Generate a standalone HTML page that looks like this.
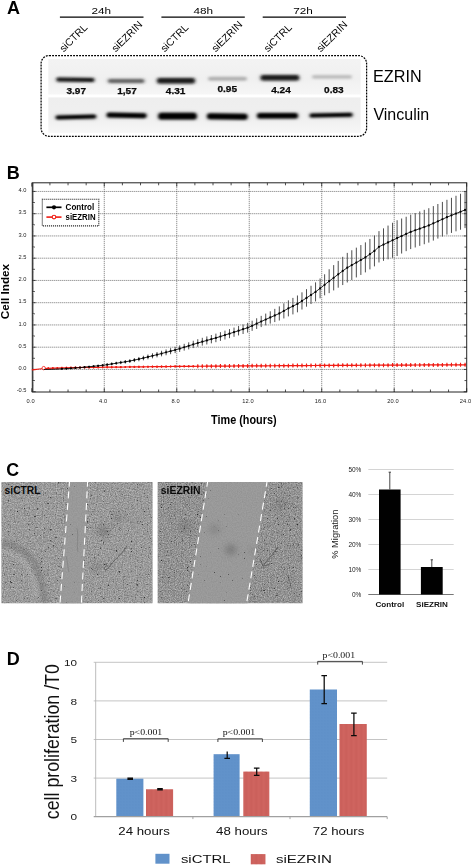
<!DOCTYPE html>
<html><head><meta charset="utf-8"><title>Figure</title>
<style>html,body{margin:0;padding:0;background:#fff;}body{width:472px;height:866px;overflow:hidden;font-family:"Liberation Sans",sans-serif;}svg{display:block;}</style>
</head><body>
<svg width="472" height="866" viewBox="0 0 472 866" font-family='"Liberation Sans", sans-serif' fill="#000">
<rect x="0" y="0" width="472" height="866" fill="#fff"/>
<defs>
<linearGradient id="blotg1" x1="0" y1="0" x2="0" y2="1"><stop offset="0" stop-color="#f3f3f3"/><stop offset="0.55" stop-color="#f0f0f0"/><stop offset="1" stop-color="#f6f6f6"/></linearGradient>
<linearGradient id="blotg2" x1="0" y1="0" x2="0" y2="1"><stop offset="0" stop-color="#eeeeee"/><stop offset="0.6" stop-color="#f0f0f0"/><stop offset="1" stop-color="#f6f6f6"/></linearGradient>
<filter id="halo" x="-10%" y="-150%" width="120%" height="400%"><feGaussianBlur stdDeviation="2.2 1.8"/></filter>
<filter id="bandblur" x="-10%" y="-60%" width="120%" height="220%"><feGaussianBlur stdDeviation="1.5 0.95"/></filter>
<filter id="soft" x="-5%" y="-5%" width="110%" height="110%"><feGaussianBlur stdDeviation="1.2"/></filter>
<filter id="blob" x="-80%" y="-80%" width="260%" height="260%"><feGaussianBlur stdDeviation="3"/></filter>
<filter id="blob2" x="-30%" y="-30%" width="160%" height="160%"><feGaussianBlur stdDeviation="2.2"/></filter>
<filter id="cells1" x="0" y="0" width="100%" height="100%" color-interpolation-filters="sRGB"><feTurbulence type="fractalNoise" baseFrequency="0.85" numOctaves="2" seed="3" result="n"/><feColorMatrix in="n" type="matrix" values="0 0.41 0 0 0.4  0 0.41 0 0 0.4  0 0.41 0 0 0.4  0 0 0 0 1" result="g"/><feTurbulence type="fractalNoise" baseFrequency="0.7" numOctaves="1" seed="23" result="m"/><feColorMatrix in="m" type="matrix" values="0 0 0 0 0.16  0 0 0 0 0.16  0 0 0 0 0.16  0 9 0 0 -6.3" result="dots"/><feTurbulence type="fractalNoise" baseFrequency="0.38" numOctaves="1" seed="44" result="m2"/><feColorMatrix in="m2" type="matrix" values="0 0 0 0 0.22  0 0 0 0 0.22  0 0 0 0 0.22  0 10 0 0 -7.15" result="dots2"/><feMerge><feMergeNode in="g"/><feMergeNode in="dots"/><feMergeNode in="dots2"/></feMerge></filter>
<filter id="fine1" x="0" y="0" width="100%" height="100%" color-interpolation-filters="sRGB"><feTurbulence type="fractalNoise" baseFrequency="0.8" numOctaves="1" seed="8" result="n"/><feColorMatrix in="n" type="matrix" values="0 0.10 0 0 0.55  0 0.10 0 0 0.55  0 0.10 0 0 0.55  0 0 0 0 1" result="g"/><feTurbulence type="fractalNoise" baseFrequency="0.5" numOctaves="1" seed="34" result="m"/><feColorMatrix in="m" type="matrix" values="0 0 0 0 0.2  0 0 0 0 0.2  0 0 0 0 0.2  0 9 0 0 -6.85" result="dots"/><feMerge result="mm"><feMergeNode in="g"/><feMergeNode in="dots"/></feMerge><feGaussianBlur in="SourceAlpha" stdDeviation="0.8" result="sa"/><feComposite in="mm" in2="sa" operator="in"/></filter>
<filter id="cells2" x="0" y="0" width="100%" height="100%" color-interpolation-filters="sRGB"><feTurbulence type="fractalNoise" baseFrequency="0.85" numOctaves="2" seed="11" result="n"/><feColorMatrix in="n" type="matrix" values="0 0.45 0 0 0.35  0 0.45 0 0 0.35  0 0.45 0 0 0.35  0 0 0 0 1" result="g"/><feTurbulence type="fractalNoise" baseFrequency="0.7" numOctaves="1" seed="31" result="m"/><feColorMatrix in="m" type="matrix" values="0 0 0 0 0.16  0 0 0 0 0.16  0 0 0 0 0.16  0 9 0 0 -6.15" result="dots"/><feTurbulence type="fractalNoise" baseFrequency="0.38" numOctaves="1" seed="52" result="m2"/><feColorMatrix in="m2" type="matrix" values="0 0 0 0 0.22  0 0 0 0 0.22  0 0 0 0 0.22  0 10 0 0 -7.15" result="dots2"/><feMerge><feMergeNode in="g"/><feMergeNode in="dots"/><feMergeNode in="dots2"/></feMerge></filter>
<filter id="fine2" x="0" y="0" width="100%" height="100%" color-interpolation-filters="sRGB"><feTurbulence type="fractalNoise" baseFrequency="0.8" numOctaves="1" seed="16" result="n"/><feColorMatrix in="n" type="matrix" values="0 0.10 0 0 0.55  0 0.10 0 0 0.55  0 0.10 0 0 0.55  0 0 0 0 1" result="g"/><feTurbulence type="fractalNoise" baseFrequency="0.5" numOctaves="1" seed="42" result="m"/><feColorMatrix in="m" type="matrix" values="0 0 0 0 0.2  0 0 0 0 0.2  0 0 0 0 0.2  0 9 0 0 -6.85" result="dots"/><feMerge result="mm"><feMergeNode in="g"/><feMergeNode in="dots"/></feMerge><feGaussianBlur in="SourceAlpha" stdDeviation="0.8" result="sa"/><feComposite in="mm" in2="sa" operator="in"/></filter>
<pattern id="stripesr" width="1.25" height="4" patternUnits="userSpaceOnUse"><rect x="0" y="0" width="0.55" height="4" fill="#c25550" opacity="0.4"/></pattern>
<pattern id="stripesb" width="1.5" height="1.5" patternUnits="userSpaceOnUse"><rect x="0" y="0" width="0.7" height="0.7" fill="#5486c0" opacity="0.3"/></pattern>
</defs>
<g opacity="0.999">
<g id="panelA">
<text x="6.9" y="13.7" font-size="18" font-weight="700">A</text>
<text x="91.4" y="14.3" font-size="9.6" textLength="19.6" lengthAdjust="spacingAndGlyphs">24h</text>
<line x1="59.9" y1="17.2" x2="143.5" y2="17.2" stroke="#000" stroke-width="1.2"/>
<text x="193.4" y="14.3" font-size="9.6" textLength="19.6" lengthAdjust="spacingAndGlyphs">48h</text>
<line x1="161.4" y1="17.2" x2="244.8" y2="17.2" stroke="#000" stroke-width="1.2"/>
<text x="293.3" y="14.3" font-size="9.6" textLength="19.6" lengthAdjust="spacingAndGlyphs">72h</text>
<line x1="262.7" y1="17.2" x2="346.0" y2="17.2" stroke="#000" stroke-width="1.2"/>
<text transform="translate(63.7,52.6) rotate(-45)" font-size="10.4" fill="#000">siCTRL</text>
<text transform="translate(115.7,52.6) rotate(-45)" font-size="10.4" fill="#000">siEZRIN</text>
<text transform="translate(164.7,52.6) rotate(-45)" font-size="10.4" fill="#000">siCTRL</text>
<text transform="translate(215.7,52.6) rotate(-45)" font-size="10.4" fill="#000">siEZRIN</text>
<text transform="translate(268.0,52.6) rotate(-45)" font-size="10.4" fill="#000">siCTRL</text>
<text transform="translate(320.7,52.6) rotate(-45)" font-size="10.4" fill="#000">siEZRIN</text>
<rect x="48.3" y="59" width="312.3" height="35.5" fill="url(#blotg1)"/>
<rect x="48.3" y="97.4" width="312.3" height="35.4" fill="url(#blotg2)"/>
<g filter="url(#halo)" opacity="0.22">
<rect x="55.4" y="76.65" width="40.0" height="6.3" rx="3" fill="#555"/>
<rect x="107.0" y="78.05" width="38.2" height="5.9" rx="3" fill="#555"/>
<rect x="156.0" y="76.90" width="40.0" height="7.8" rx="3" fill="#555"/>
<rect x="259.6" y="73.90" width="40.6" height="7.8" rx="3" fill="#555"/>
<rect x="54.6" y="113.70" width="42.6" height="6.6" rx="3" fill="#555"/>
<rect x="105.6" y="111.70" width="42.0" height="7.4" rx="3" fill="#555"/>
<rect x="157.2" y="111.60" width="40.6" height="9.2" rx="3" fill="#555"/>
<rect x="206.0" y="112.30" width="42.6" height="8.4" rx="3" fill="#555"/>
<rect x="256.0" y="111.70" width="43.0" height="8.0" rx="3" fill="#555"/>
<rect x="308.6" y="112.00" width="45.0" height="6.4" rx="3" fill="#555"/>
</g>
<g filter="url(#bandblur)">
<rect x="56.4" y="77.85" width="38.0" height="3.9" rx="1.95" fill="#141414" opacity="1.0" transform="rotate(0.8 75.4 79.8)"/>
<rect x="108.0" y="79.25" width="36.2" height="3.5" rx="1.75" fill="#444" opacity="0.85" transform="rotate(0.4 126.1 81.0)"/>
<rect x="157.0" y="78.10" width="38.0" height="5.4" rx="2.70" fill="#161616" opacity="0.96" transform="rotate(0.0 176.0 80.8)"/>
<rect x="208.0" y="76.80" width="39.0" height="4.0" rx="2.00" fill="#a0a0a0" opacity="0.8" transform="rotate(0.0 227.5 78.8)"/>
<rect x="260.6" y="75.10" width="38.6" height="5.4" rx="2.70" fill="#161616" opacity="0.96" transform="rotate(0.0 279.9 77.8)"/>
<rect x="312.0" y="74.90" width="40.0" height="3.8" rx="1.90" fill="#b2b2b2" opacity="0.8" transform="rotate(0.0 332.0 76.8)"/>
<rect x="55.6" y="114.90" width="40.6" height="4.2" rx="2.10" fill="#050505" opacity="1.0" transform="rotate(-1.6 75.9 117.0)"/>
<rect x="106.6" y="112.90" width="40.0" height="5.0" rx="2.50" fill="#050505" opacity="1.0" transform="rotate(1.0 126.6 115.4)"/>
<rect x="158.2" y="112.80" width="38.6" height="6.8" rx="3.40" fill="#030303" opacity="1.0" transform="rotate(0.0 177.5 116.2)"/>
<rect x="207.0" y="113.50" width="40.6" height="6.0" rx="3.00" fill="#030303" opacity="1.0" transform="rotate(0.6 227.3 116.5)"/>
<rect x="257.0" y="112.90" width="41.0" height="5.6" rx="2.80" fill="#030303" opacity="1.0" transform="rotate(0.0 277.5 115.7)"/>
<rect x="309.6" y="113.20" width="43.0" height="4.0" rx="2.00" fill="#050505" opacity="1.0" transform="rotate(-1.2 331.1 115.2)"/>
</g>
<text x="76.2" y="94.0" font-size="9.4" font-weight="700" text-anchor="middle" fill="#0a0a0a" stroke="#0a0a0a" stroke-width="0.25" textLength="19.6" lengthAdjust="spacingAndGlyphs">3.97</text>
<text x="127.0" y="94.0" font-size="9.4" font-weight="700" text-anchor="middle" fill="#0a0a0a" stroke="#0a0a0a" stroke-width="0.25" textLength="19.6" lengthAdjust="spacingAndGlyphs">1,57</text>
<text x="175.6" y="93.6" font-size="9.4" font-weight="700" text-anchor="middle" fill="#0a0a0a" stroke="#0a0a0a" stroke-width="0.25" textLength="19.6" lengthAdjust="spacingAndGlyphs">4.31</text>
<text x="227.2" y="92.4" font-size="9.4" font-weight="700" text-anchor="middle" fill="#0a0a0a" stroke="#0a0a0a" stroke-width="0.25" textLength="19.6" lengthAdjust="spacingAndGlyphs">0.95</text>
<text x="281" y="92.6" font-size="9.4" font-weight="700" text-anchor="middle" fill="#0a0a0a" stroke="#0a0a0a" stroke-width="0.25" textLength="19.6" lengthAdjust="spacingAndGlyphs">4.24</text>
<text x="333.9" y="92.6" font-size="9.4" font-weight="700" text-anchor="middle" fill="#0a0a0a" stroke="#0a0a0a" stroke-width="0.25" textLength="19.6" lengthAdjust="spacingAndGlyphs">0.83</text>
<rect x="41.1" y="55.6" width="325.5" height="80.7" rx="8" ry="8" fill="none" stroke="#000" stroke-width="1.25" stroke-dasharray="1.9 1.1"/>
<text x="373.0" y="82.3" font-size="15.7" textLength="48.6" lengthAdjust="spacingAndGlyphs">EZRIN</text>
<text x="373.4" y="120" font-size="15.7" textLength="55.8" lengthAdjust="spacingAndGlyphs">Vinculin</text>
</g>
<g id="panelB">
<text x="6.7" y="178.8" font-size="18" font-weight="700">B</text>
<line x1="32.3" y1="369.45" x2="466.7" y2="369.45" stroke="#5a5a5a" stroke-width="0.85" stroke-dasharray="1 1"/>
<line x1="32.3" y1="347.20" x2="466.7" y2="347.20" stroke="#5a5a5a" stroke-width="0.85" stroke-dasharray="1 1"/>
<line x1="32.3" y1="324.95" x2="466.7" y2="324.95" stroke="#5a5a5a" stroke-width="0.85" stroke-dasharray="1 1"/>
<line x1="32.3" y1="302.70" x2="466.7" y2="302.70" stroke="#5a5a5a" stroke-width="0.85" stroke-dasharray="1 1"/>
<line x1="32.3" y1="280.45" x2="466.7" y2="280.45" stroke="#5a5a5a" stroke-width="0.85" stroke-dasharray="1 1"/>
<line x1="32.3" y1="258.20" x2="466.7" y2="258.20" stroke="#5a5a5a" stroke-width="0.85" stroke-dasharray="1 1"/>
<line x1="32.3" y1="235.95" x2="466.7" y2="235.95" stroke="#5a5a5a" stroke-width="0.85" stroke-dasharray="1 1"/>
<line x1="32.3" y1="213.70" x2="466.7" y2="213.70" stroke="#5a5a5a" stroke-width="0.85" stroke-dasharray="1 1"/>
<line x1="32.3" y1="191.45" x2="466.7" y2="191.45" stroke="#5a5a5a" stroke-width="0.85" stroke-dasharray="1 1"/>
<line x1="104.28" y1="182.8" x2="104.28" y2="392.0" stroke="#5a5a5a" stroke-width="0.85" stroke-dasharray="1 1"/>
<line x1="176.76" y1="182.8" x2="176.76" y2="392.0" stroke="#5a5a5a" stroke-width="0.85" stroke-dasharray="1 1"/>
<line x1="249.24" y1="182.8" x2="249.24" y2="392.0" stroke="#5a5a5a" stroke-width="0.85" stroke-dasharray="1 1"/>
<line x1="321.72" y1="182.8" x2="321.72" y2="392.0" stroke="#5a5a5a" stroke-width="0.85" stroke-dasharray="1 1"/>
<line x1="394.20" y1="182.8" x2="394.20" y2="392.0" stroke="#5a5a5a" stroke-width="0.85" stroke-dasharray="1 1"/>
<rect x="32.3" y="182.8" width="434.4" height="209.2" fill="none" stroke="#222" stroke-width="1"/>
<path d="M32.3 390.81h1.6M32.3 389.92h1.6M32.3 389.03h1.6M32.3 388.14h1.6M32.3 387.25h1.6M32.3 386.36h1.6M32.3 385.47h1.6M32.3 384.58h1.6M32.3 383.69h1.6M32.3 382.80h1.6M32.3 381.91h1.6M32.3 380.13h1.6M32.3 379.24h1.6M32.3 378.35h1.6M32.3 377.46h1.6M32.3 376.57h1.6M32.3 375.68h1.6M32.3 374.79h1.6M32.3 373.90h1.6M32.3 373.01h1.6M32.3 372.12h1.6M32.3 371.23h1.6M32.3 370.34h1.6M32.3 368.56h1.6M32.3 367.67h1.6M32.3 366.78h1.6M32.3 365.89h1.6M32.3 365.00h1.6M32.3 364.11h1.6M32.3 363.22h1.6M32.3 362.33h1.6M32.3 361.44h1.6M32.3 360.55h1.6M32.3 359.66h1.6M32.3 357.88h1.6M32.3 356.99h1.6M32.3 356.10h1.6M32.3 355.21h1.6M32.3 354.32h1.6M32.3 353.43h1.6M32.3 352.54h1.6M32.3 351.65h1.6M32.3 350.76h1.6M32.3 349.87h1.6M32.3 348.98h1.6M32.3 348.09h1.6M32.3 346.31h1.6M32.3 345.42h1.6M32.3 344.53h1.6M32.3 343.64h1.6M32.3 342.75h1.6M32.3 341.86h1.6M32.3 340.97h1.6M32.3 340.08h1.6M32.3 339.19h1.6M32.3 338.30h1.6M32.3 337.41h1.6M32.3 335.63h1.6M32.3 334.74h1.6M32.3 333.85h1.6M32.3 332.96h1.6M32.3 332.07h1.6M32.3 331.18h1.6M32.3 330.29h1.6M32.3 329.40h1.6M32.3 328.51h1.6M32.3 327.62h1.6M32.3 326.73h1.6M32.3 325.84h1.6M32.3 324.06h1.6M32.3 323.17h1.6M32.3 322.28h1.6M32.3 321.39h1.6M32.3 320.50h1.6M32.3 319.61h1.6M32.3 318.72h1.6M32.3 317.83h1.6M32.3 316.94h1.6M32.3 316.05h1.6M32.3 315.16h1.6M32.3 313.38h1.6M32.3 312.49h1.6M32.3 311.60h1.6M32.3 310.71h1.6M32.3 309.82h1.6M32.3 308.93h1.6M32.3 308.04h1.6M32.3 307.15h1.6M32.3 306.26h1.6M32.3 305.37h1.6M32.3 304.48h1.6M32.3 303.59h1.6M32.3 301.81h1.6M32.3 300.92h1.6M32.3 300.03h1.6M32.3 299.14h1.6M32.3 298.25h1.6M32.3 297.36h1.6M32.3 296.47h1.6M32.3 295.58h1.6M32.3 294.69h1.6M32.3 293.80h1.6M32.3 292.91h1.6M32.3 291.13h1.6M32.3 290.24h1.6M32.3 289.35h1.6M32.3 288.46h1.6M32.3 287.57h1.6M32.3 286.68h1.6M32.3 285.79h1.6M32.3 284.90h1.6M32.3 284.01h1.6M32.3 283.12h1.6M32.3 282.23h1.6M32.3 281.34h1.6M32.3 279.56h1.6M32.3 278.67h1.6M32.3 277.78h1.6M32.3 276.89h1.6M32.3 276.00h1.6M32.3 275.11h1.6M32.3 274.22h1.6M32.3 273.33h1.6M32.3 272.44h1.6M32.3 271.55h1.6M32.3 270.66h1.6M32.3 268.88h1.6M32.3 267.99h1.6M32.3 267.10h1.6M32.3 266.21h1.6M32.3 265.32h1.6M32.3 264.43h1.6M32.3 263.54h1.6M32.3 262.65h1.6M32.3 261.76h1.6M32.3 260.87h1.6M32.3 259.98h1.6M32.3 259.09h1.6M32.3 257.31h1.6M32.3 256.42h1.6M32.3 255.53h1.6M32.3 254.64h1.6M32.3 253.75h1.6M32.3 252.86h1.6M32.3 251.97h1.6M32.3 251.08h1.6M32.3 250.19h1.6M32.3 249.30h1.6M32.3 248.41h1.6M32.3 246.63h1.6M32.3 245.74h1.6M32.3 244.85h1.6M32.3 243.96h1.6M32.3 243.07h1.6M32.3 242.18h1.6M32.3 241.29h1.6M32.3 240.40h1.6M32.3 239.51h1.6M32.3 238.62h1.6M32.3 237.73h1.6M32.3 236.84h1.6M32.3 235.06h1.6M32.3 234.17h1.6M32.3 233.28h1.6M32.3 232.39h1.6M32.3 231.50h1.6M32.3 230.61h1.6M32.3 229.72h1.6M32.3 228.83h1.6M32.3 227.94h1.6M32.3 227.05h1.6M32.3 226.16h1.6M32.3 224.38h1.6M32.3 223.49h1.6M32.3 222.60h1.6M32.3 221.71h1.6M32.3 220.82h1.6M32.3 219.93h1.6M32.3 219.04h1.6M32.3 218.15h1.6M32.3 217.26h1.6M32.3 216.37h1.6M32.3 215.48h1.6M32.3 214.59h1.6M32.3 212.81h1.6M32.3 211.92h1.6M32.3 211.03h1.6M32.3 210.14h1.6M32.3 209.25h1.6M32.3 208.36h1.6M32.3 207.47h1.6M32.3 206.58h1.6M32.3 205.69h1.6M32.3 204.80h1.6M32.3 203.91h1.6M32.3 202.13h1.6M32.3 201.24h1.6M32.3 200.35h1.6M32.3 199.46h1.6M32.3 198.57h1.6M32.3 197.68h1.6M32.3 196.79h1.6M32.3 195.90h1.6M32.3 195.01h1.6M32.3 194.12h1.6M32.3 193.23h1.6M32.3 192.34h1.6M32.3 190.56h1.6M32.3 189.67h1.6M32.3 188.78h1.6M32.3 187.89h1.6M32.3 187.00h1.6M32.3 186.11h1.6M32.3 185.22h1.6M32.3 184.33h1.6M32.3 183.44h1.6" stroke="#222" stroke-width="0.4" fill="none"/>
<path d="M31.80 392.0v-3.8M31.80 182.8v3.8M49.92 392.0v-2.5M49.92 182.8v2.5M68.04 392.0v-2.5M68.04 182.8v2.5M86.16 392.0v-2.5M86.16 182.8v2.5M104.28 392.0v-3.8M104.28 182.8v3.8M122.40 392.0v-2.5M122.40 182.8v2.5M140.52 392.0v-2.5M140.52 182.8v2.5M158.64 392.0v-2.5M158.64 182.8v2.5M176.76 392.0v-3.8M176.76 182.8v3.8M194.88 392.0v-2.5M194.88 182.8v2.5M213.00 392.0v-2.5M213.00 182.8v2.5M231.12 392.0v-2.5M231.12 182.8v2.5M249.24 392.0v-3.8M249.24 182.8v3.8M267.36 392.0v-2.5M267.36 182.8v2.5M285.48 392.0v-2.5M285.48 182.8v2.5M303.60 392.0v-2.5M303.60 182.8v2.5M321.72 392.0v-3.8M321.72 182.8v3.8M339.84 392.0v-2.5M339.84 182.8v2.5M357.96 392.0v-2.5M357.96 182.8v2.5M376.08 392.0v-2.5M376.08 182.8v2.5M394.20 392.0v-3.8M394.20 182.8v3.8M412.32 392.0v-2.5M412.32 182.8v2.5M430.44 392.0v-2.5M430.44 182.8v2.5M448.56 392.0v-2.5M448.56 182.8v2.5M466.68 392.0v-3.8M466.68 182.8v3.8M32.3 391.70h3.4M466.7 391.70h-3.0M32.3 380.57h2.6M466.7 380.57h-2.2M32.3 369.45h3.4M466.7 369.45h-3.0M32.3 358.32h2.6M466.7 358.32h-2.2M32.3 347.20h3.4M466.7 347.20h-3.0M32.3 336.07h2.6M466.7 336.07h-2.2M32.3 324.95h3.4M466.7 324.95h-3.0M32.3 313.82h2.6M466.7 313.82h-2.2M32.3 302.70h3.4M466.7 302.70h-3.0M32.3 291.57h2.6M466.7 291.57h-2.2M32.3 280.45h3.4M466.7 280.45h-3.0M32.3 269.32h2.6M466.7 269.32h-2.2M32.3 258.20h3.4M466.7 258.20h-3.0M32.3 247.07h2.6M466.7 247.07h-2.2M32.3 235.95h3.4M466.7 235.95h-3.0M32.3 224.82h2.6M466.7 224.82h-2.2M32.3 213.70h3.4M466.7 213.70h-3.0M32.3 202.57h2.6M466.7 202.57h-2.2M32.3 191.45h3.4M466.7 191.45h-3.0" stroke="#222" stroke-width="0.8" fill="none"/>
<text x="30.6" y="403.1" font-size="5.7" text-anchor="middle" fill="#1c1c1c" letter-spacing="0.15">0.0</text>
<text x="103.1" y="403.1" font-size="5.7" text-anchor="middle" fill="#1c1c1c" letter-spacing="0.15">4.0</text>
<text x="175.6" y="403.1" font-size="5.7" text-anchor="middle" fill="#1c1c1c" letter-spacing="0.15">8.0</text>
<text x="248.0" y="403.1" font-size="5.7" text-anchor="middle" fill="#1c1c1c" letter-spacing="0.15">12.0</text>
<text x="320.5" y="403.1" font-size="5.7" text-anchor="middle" fill="#1c1c1c" letter-spacing="0.15">16.0</text>
<text x="393.0" y="403.1" font-size="5.7" text-anchor="middle" fill="#1c1c1c" letter-spacing="0.15">20.0</text>
<text x="465.5" y="403.1" font-size="5.7" text-anchor="middle" fill="#1c1c1c" letter-spacing="0.15">24.0</text>
<text x="26.5" y="392.4" font-size="5.7" text-anchor="end" fill="#1c1c1c">-0.5</text>
<text x="26.5" y="370.1" font-size="5.7" text-anchor="end" fill="#1c1c1c">0.0</text>
<text x="26.5" y="347.9" font-size="5.7" text-anchor="end" fill="#1c1c1c">0.5</text>
<text x="26.5" y="325.6" font-size="5.7" text-anchor="end" fill="#1c1c1c">1.0</text>
<text x="26.5" y="303.4" font-size="5.7" text-anchor="end" fill="#1c1c1c">1.5</text>
<text x="26.5" y="281.1" font-size="5.7" text-anchor="end" fill="#1c1c1c">2.0</text>
<text x="26.5" y="258.9" font-size="5.7" text-anchor="end" fill="#1c1c1c">2.5</text>
<text x="26.5" y="236.6" font-size="5.7" text-anchor="end" fill="#1c1c1c">3.0</text>
<text x="26.5" y="214.4" font-size="5.7" text-anchor="end" fill="#1c1c1c">3.5</text>
<text x="26.5" y="192.1" font-size="5.7" text-anchor="end" fill="#1c1c1c">4.0</text>
<text transform="translate(9.3,291.6) rotate(-90)" font-size="11.3" font-weight="700" text-anchor="middle" textLength="55.4" lengthAdjust="spacingAndGlyphs">Cell Index</text>
<text x="243.8" y="423.6" font-size="12" font-weight="700" text-anchor="middle" textLength="65.5" lengthAdjust="spacingAndGlyphs">Time (hours)</text>
<polyline fill="none" stroke="#f01c14" stroke-width="1.2" points="31.80,369.89 34.70,369.54 39.23,368.98 43.76,368.52 48.29,368.36 52.82,368.20 57.35,368.05 61.88,367.89 66.41,367.73 70.94,367.63 75.47,367.58 80.00,367.52 84.53,367.47 89.06,367.41 93.59,367.36 98.12,367.30 102.65,367.25 107.18,367.19 111.71,367.14 116.24,367.09 120.77,367.04 125.30,366.99 129.83,366.94 134.36,366.89 138.89,366.84 143.42,366.79 147.95,366.74 152.48,366.69 157.01,366.64 161.54,366.59 166.07,366.54 170.60,366.49 175.13,366.44 179.66,366.40 184.19,366.37 188.72,366.34 193.25,366.30 197.78,366.27 202.31,366.24 206.84,366.20 211.37,366.17 215.90,366.14 220.43,366.10 224.96,366.07 229.49,366.04 234.02,366.00 238.55,365.97 243.08,365.94 247.61,365.90 252.14,365.87 256.67,365.84 261.20,365.82 265.73,365.79 270.26,365.76 274.79,365.73 279.32,365.71 283.85,365.68 288.38,365.65 292.91,365.62 297.44,365.59 301.97,365.57 306.50,365.54 311.03,365.51 315.56,365.48 320.09,365.46 324.62,365.43 329.15,365.41 333.68,365.39 338.21,365.37 342.74,365.35 347.27,365.33 351.80,365.31 356.33,365.29 360.86,365.26 365.39,365.24 369.92,365.22 374.45,365.20 378.98,365.18 383.51,365.16 388.04,365.14 392.57,365.12 397.10,365.10 401.63,365.08 406.16,365.06 410.69,365.04 415.22,365.01 419.75,364.99 424.28,364.97 428.81,364.95 433.34,364.93 437.87,364.91 442.40,364.89 446.93,364.87 451.46,364.85 455.99,364.83 460.52,364.81 465.05,364.79"/>
<path d="M43.76 367.42v2.2M48.29 367.26v2.2M52.82 367.10v2.2M57.35 366.95v2.2M61.88 366.79v2.2M66.41 366.63v2.2M70.94 366.53v2.2M75.47 366.48v2.2M80.00 366.42v2.2M84.53 366.37v2.2M89.06 366.31v2.2M93.59 366.26v2.2M98.12 366.20v2.2M102.65 366.15v2.2M107.18 366.09v2.2M111.71 366.04v2.2M116.24 365.99v2.2M120.77 365.94v2.2M125.30 365.89v2.2M129.83 365.84v2.2M134.36 365.79v2.2M138.89 365.74v2.2M143.42 365.69v2.2M147.95 365.64v2.2M152.48 365.59v2.2M157.01 365.54v2.2M161.54 365.49v2.2M166.07 365.44v2.2M170.60 365.39v2.2M175.13 365.34v2.2M179.66 365.30v2.2M184.19 365.27v2.2M188.72 365.24v2.2M193.25 365.20v2.2M197.78 364.27v4.0M202.31 364.24v4.0M206.84 364.20v4.0M211.37 364.17v4.0M215.90 364.14v4.0M220.43 364.10v4.0M224.96 364.07v4.0M229.49 364.04v4.0M234.02 364.00v4.0M238.55 363.97v4.0M243.08 363.94v4.0M247.61 363.90v4.0M252.14 363.87v4.0M256.67 363.84v4.0M261.20 363.82v4.0M265.73 363.79v4.0M270.26 363.76v4.0M274.79 363.73v4.0M279.32 363.71v4.0M283.85 363.68v4.0M288.38 363.65v4.0M292.91 363.62v4.0M297.44 363.59v4.0M301.97 363.57v4.0M306.50 363.54v4.0M311.03 363.51v4.0M315.56 363.48v4.0M320.09 363.46v4.0M324.62 363.43v4.0M329.15 363.41v4.0M333.68 363.39v4.0M338.21 363.37v4.0M342.74 363.35v4.0M347.27 363.33v4.0M351.80 363.31v4.0M356.33 363.29v4.0M360.86 363.26v4.0M365.39 363.24v4.0M369.92 363.22v4.0M374.45 363.20v4.0M378.98 363.18v4.0M383.51 363.16v4.0M388.04 363.14v4.0M392.57 363.12v4.0M397.10 363.10v4.0M401.63 363.08v4.0M406.16 363.06v4.0M410.69 363.04v4.0M415.22 363.01v4.0M419.75 362.99v4.0M424.28 362.97v4.0M428.81 362.95v4.0M433.34 362.93v4.0M437.87 362.91v4.0M442.40 362.89v4.0M446.93 362.87v4.0M451.46 362.85v4.0M455.99 362.83v4.0M460.52 362.81v4.0M465.05 362.79v4.0" stroke="#f01c14" stroke-width="1.1" fill="none"/>
<circle cx="43.76" cy="368.52" r="1.0" fill="#f01c14"/>
<circle cx="48.29" cy="368.36" r="1.0" fill="#f01c14"/>
<circle cx="52.82" cy="368.20" r="1.0" fill="#f01c14"/>
<circle cx="57.35" cy="368.05" r="1.0" fill="#f01c14"/>
<circle cx="61.88" cy="367.89" r="1.0" fill="#f01c14"/>
<circle cx="66.41" cy="367.73" r="1.0" fill="#f01c14"/>
<circle cx="70.94" cy="367.63" r="1.0" fill="#f01c14"/>
<circle cx="75.47" cy="367.58" r="1.0" fill="#f01c14"/>
<circle cx="80.00" cy="367.52" r="1.0" fill="#f01c14"/>
<circle cx="84.53" cy="367.47" r="1.0" fill="#f01c14"/>
<circle cx="89.06" cy="367.41" r="1.0" fill="#f01c14"/>
<circle cx="93.59" cy="367.36" r="1.0" fill="#f01c14"/>
<circle cx="98.12" cy="367.30" r="1.0" fill="#f01c14"/>
<circle cx="102.65" cy="367.25" r="1.0" fill="#f01c14"/>
<circle cx="107.18" cy="367.19" r="1.0" fill="#f01c14"/>
<circle cx="111.71" cy="367.14" r="1.0" fill="#f01c14"/>
<circle cx="116.24" cy="367.09" r="1.0" fill="#f01c14"/>
<circle cx="120.77" cy="367.04" r="1.0" fill="#f01c14"/>
<circle cx="125.30" cy="366.99" r="1.0" fill="#f01c14"/>
<circle cx="129.83" cy="366.94" r="1.0" fill="#f01c14"/>
<circle cx="134.36" cy="366.89" r="1.0" fill="#f01c14"/>
<circle cx="138.89" cy="366.84" r="1.0" fill="#f01c14"/>
<circle cx="143.42" cy="366.79" r="1.0" fill="#f01c14"/>
<circle cx="147.95" cy="366.74" r="1.0" fill="#f01c14"/>
<circle cx="152.48" cy="366.69" r="1.0" fill="#f01c14"/>
<circle cx="157.01" cy="366.64" r="1.0" fill="#f01c14"/>
<circle cx="161.54" cy="366.59" r="1.0" fill="#f01c14"/>
<circle cx="166.07" cy="366.54" r="1.0" fill="#f01c14"/>
<circle cx="170.60" cy="366.49" r="1.0" fill="#f01c14"/>
<circle cx="175.13" cy="366.44" r="1.0" fill="#f01c14"/>
<circle cx="179.66" cy="366.40" r="1.0" fill="#f01c14"/>
<circle cx="184.19" cy="366.37" r="1.0" fill="#f01c14"/>
<circle cx="188.72" cy="366.34" r="1.0" fill="#f01c14"/>
<circle cx="193.25" cy="366.30" r="1.0" fill="#f01c14"/>
<circle cx="197.78" cy="366.27" r="1.0" fill="#f01c14"/>
<circle cx="202.31" cy="366.24" r="1.0" fill="#f01c14"/>
<circle cx="206.84" cy="366.20" r="1.0" fill="#f01c14"/>
<circle cx="211.37" cy="366.17" r="1.0" fill="#f01c14"/>
<circle cx="215.90" cy="366.14" r="1.0" fill="#f01c14"/>
<circle cx="220.43" cy="366.10" r="1.0" fill="#f01c14"/>
<circle cx="224.96" cy="366.07" r="1.0" fill="#f01c14"/>
<circle cx="229.49" cy="366.04" r="1.0" fill="#f01c14"/>
<circle cx="234.02" cy="366.00" r="1.0" fill="#f01c14"/>
<circle cx="238.55" cy="365.97" r="1.0" fill="#f01c14"/>
<circle cx="243.08" cy="365.94" r="1.0" fill="#f01c14"/>
<circle cx="247.61" cy="365.90" r="1.0" fill="#f01c14"/>
<circle cx="252.14" cy="365.87" r="1.0" fill="#f01c14"/>
<circle cx="256.67" cy="365.84" r="1.0" fill="#f01c14"/>
<circle cx="261.20" cy="365.82" r="1.0" fill="#f01c14"/>
<circle cx="265.73" cy="365.79" r="1.0" fill="#f01c14"/>
<circle cx="270.26" cy="365.76" r="1.0" fill="#f01c14"/>
<circle cx="274.79" cy="365.73" r="1.0" fill="#f01c14"/>
<circle cx="279.32" cy="365.71" r="1.0" fill="#f01c14"/>
<circle cx="283.85" cy="365.68" r="1.0" fill="#f01c14"/>
<circle cx="288.38" cy="365.65" r="1.0" fill="#f01c14"/>
<circle cx="292.91" cy="365.62" r="1.0" fill="#f01c14"/>
<circle cx="297.44" cy="365.59" r="1.0" fill="#f01c14"/>
<circle cx="301.97" cy="365.57" r="1.0" fill="#f01c14"/>
<circle cx="306.50" cy="365.54" r="1.0" fill="#f01c14"/>
<circle cx="311.03" cy="365.51" r="1.0" fill="#f01c14"/>
<circle cx="315.56" cy="365.48" r="1.0" fill="#f01c14"/>
<circle cx="320.09" cy="365.46" r="1.0" fill="#f01c14"/>
<circle cx="324.62" cy="365.43" r="1.0" fill="#f01c14"/>
<circle cx="329.15" cy="365.41" r="1.0" fill="#f01c14"/>
<circle cx="333.68" cy="365.39" r="1.0" fill="#f01c14"/>
<circle cx="338.21" cy="365.37" r="1.0" fill="#f01c14"/>
<circle cx="342.74" cy="365.35" r="1.0" fill="#f01c14"/>
<circle cx="347.27" cy="365.33" r="1.0" fill="#f01c14"/>
<circle cx="351.80" cy="365.31" r="1.0" fill="#f01c14"/>
<circle cx="356.33" cy="365.29" r="1.0" fill="#f01c14"/>
<circle cx="360.86" cy="365.26" r="1.0" fill="#f01c14"/>
<circle cx="365.39" cy="365.24" r="1.0" fill="#f01c14"/>
<circle cx="369.92" cy="365.22" r="1.0" fill="#f01c14"/>
<circle cx="374.45" cy="365.20" r="1.0" fill="#f01c14"/>
<circle cx="378.98" cy="365.18" r="1.0" fill="#f01c14"/>
<circle cx="383.51" cy="365.16" r="1.0" fill="#f01c14"/>
<circle cx="388.04" cy="365.14" r="1.0" fill="#f01c14"/>
<circle cx="392.57" cy="365.12" r="1.0" fill="#f01c14"/>
<circle cx="397.10" cy="365.10" r="1.0" fill="#f01c14"/>
<circle cx="401.63" cy="365.08" r="1.0" fill="#f01c14"/>
<circle cx="406.16" cy="365.06" r="1.0" fill="#f01c14"/>
<circle cx="410.69" cy="365.04" r="1.0" fill="#f01c14"/>
<circle cx="415.22" cy="365.01" r="1.0" fill="#f01c14"/>
<circle cx="419.75" cy="364.99" r="1.0" fill="#f01c14"/>
<circle cx="424.28" cy="364.97" r="1.0" fill="#f01c14"/>
<circle cx="428.81" cy="364.95" r="1.0" fill="#f01c14"/>
<circle cx="433.34" cy="364.93" r="1.0" fill="#f01c14"/>
<circle cx="437.87" cy="364.91" r="1.0" fill="#f01c14"/>
<circle cx="442.40" cy="364.89" r="1.0" fill="#f01c14"/>
<circle cx="446.93" cy="364.87" r="1.0" fill="#f01c14"/>
<circle cx="451.46" cy="364.85" r="1.0" fill="#f01c14"/>
<circle cx="455.99" cy="364.83" r="1.0" fill="#f01c14"/>
<circle cx="460.52" cy="364.81" r="1.0" fill="#f01c14"/>
<circle cx="465.05" cy="364.79" r="1.0" fill="#f01c14"/>
<circle cx="43.7" cy="368.12" r="1.7" fill="#fff" stroke="#f01c14" stroke-width="0.8"/>
<path d="M57.35 368.73V369.44M61.88 368.45V369.28M66.41 368.16V369.12M70.94 367.77V368.88M75.47 367.31V368.60M80.00 366.85V368.31M84.53 366.39V368.02M89.06 365.82V367.64M93.59 365.26V367.25M98.12 364.70V366.86M102.65 364.14V366.47M107.18 363.39V365.95M111.71 362.55V365.36M116.24 361.71V364.77M120.77 360.87V364.18M125.30 360.03V363.59M129.83 359.13V362.94M134.36 358.04V362.10M138.89 356.96V361.27M143.42 355.77V360.33M147.95 354.52V359.33M152.48 353.28V358.34M157.01 352.03V357.34M161.54 350.76V356.32M166.07 349.45V355.26M170.60 348.14V354.20M175.13 346.83V353.14M179.66 345.37V351.93M184.19 343.83V350.64M188.72 342.30V349.36M193.25 340.76V348.07M197.78 339.22V346.78M202.31 337.81V345.62M206.84 336.41V344.47M211.37 335.02V343.33M215.90 333.62V342.18M220.43 332.14V340.88M224.96 330.62V339.52M229.49 329.10V338.17M234.02 327.57V336.81M238.55 326.02V335.43M243.08 324.43V334.01M247.61 322.85V332.59M252.14 320.72V330.87M256.67 318.29V328.98M261.20 315.87V327.10M265.73 313.59V325.36M270.26 311.31V323.62M274.79 308.87V322.07M279.32 306.38V320.53M283.85 303.36V318.46M288.38 300.34V316.39M292.91 297.90V314.40M297.44 295.49V312.34M301.97 292.32V309.52M306.50 289.15V306.70M311.03 285.79V304.04M315.56 282.36V301.40M320.09 278.48V298.29M324.62 274.27V295.35M329.15 269.27V293.13M333.68 265.10V290.41M338.21 260.93V287.69M342.74 256.84V285.05M347.27 252.88V282.48M351.80 250.26V279.97M356.33 247.65V277.45M360.86 245.05V274.95M365.39 242.36V272.38M369.92 238.93V269.39M374.45 235.47V266.36M378.98 231.13V262.46M383.51 228.35V260.82M388.04 225.58V259.33M392.57 222.76V257.79M397.10 220.22V256.02M401.63 218.53V253.54M406.16 216.75V251.15M410.69 214.68V249.08M415.22 213.07V247.47M419.75 211.45V245.85M424.28 209.84V244.24M428.81 208.21V242.61M433.34 206.12V240.58M437.87 204.01V238.58M442.40 201.90V236.57M446.93 199.81V234.57M451.46 197.82V232.91M455.99 195.78V231.32M460.52 193.73V229.72M465.05 191.69V228.12" stroke="#444" stroke-width="0.95" fill="none"/>
<polyline fill="none" stroke="#000" stroke-width="0.85" points="43.76,369.45 48.29,369.45 52.82,369.31 57.35,369.09 61.88,368.86 66.41,368.64 70.94,368.32 75.47,367.95 80.00,367.58 84.53,367.21 89.06,366.73 93.59,366.26 98.12,365.78 102.65,365.30 107.18,364.67 111.71,363.96 116.24,363.24 120.77,362.52 125.30,361.81 129.83,361.03 134.36,360.07 138.89,359.12 143.42,358.05 147.95,356.93 152.48,355.81 157.01,354.68 161.54,353.54 166.07,352.35 170.60,351.17 175.13,349.98 179.66,348.65 184.19,347.24 188.72,345.83 193.25,344.41 197.78,343.00 202.31,341.71 206.84,340.44 211.37,339.17 215.90,337.90 220.43,336.51 224.96,335.07 229.49,333.63 234.02,332.19 238.55,330.72 243.08,329.22 247.61,327.72 252.14,325.79 256.67,323.64 261.20,321.49 265.73,319.48 270.26,317.47 274.79,315.47 279.32,313.46 283.85,310.91 288.38,308.36 292.91,306.15 297.44,303.92 301.97,300.92 306.50,297.92 311.03,294.91 315.56,291.88 320.09,288.38 324.62,284.81 329.15,281.20 333.68,277.75 338.21,274.31 342.74,270.95 347.27,267.68 351.80,265.11 356.33,262.55 360.86,260.00 365.39,257.37 369.92,254.16 374.45,250.92 378.98,246.79 383.51,244.58 388.04,242.45 392.57,240.27 397.10,238.12 401.63,236.03 406.16,233.95 410.69,231.88 415.22,230.27 419.75,228.65 424.28,227.04 428.81,225.41 433.34,223.35 437.87,221.29 442.40,219.24 446.93,217.19 451.46,215.37 455.99,213.55 460.52,211.73 465.05,209.91"/>
<circle cx="61.88" cy="368.86" r="1.1" fill="#000"/>
<circle cx="66.41" cy="368.64" r="1.1" fill="#000"/>
<circle cx="70.94" cy="368.32" r="1.1" fill="#000"/>
<circle cx="75.47" cy="367.95" r="1.1" fill="#000"/>
<circle cx="80.00" cy="367.58" r="1.1" fill="#000"/>
<circle cx="84.53" cy="367.21" r="1.1" fill="#000"/>
<circle cx="89.06" cy="366.73" r="1.1" fill="#000"/>
<circle cx="93.59" cy="366.26" r="1.1" fill="#000"/>
<circle cx="98.12" cy="365.78" r="1.1" fill="#000"/>
<circle cx="102.65" cy="365.30" r="1.1" fill="#000"/>
<circle cx="107.18" cy="364.67" r="1.1" fill="#000"/>
<circle cx="111.71" cy="363.96" r="1.1" fill="#000"/>
<circle cx="116.24" cy="363.24" r="1.1" fill="#000"/>
<circle cx="120.77" cy="362.52" r="1.1" fill="#000"/>
<circle cx="125.30" cy="361.81" r="1.1" fill="#000"/>
<circle cx="129.83" cy="361.03" r="1.1" fill="#000"/>
<circle cx="134.36" cy="360.07" r="1.1" fill="#000"/>
<circle cx="138.89" cy="359.12" r="1.1" fill="#000"/>
<circle cx="143.42" cy="358.05" r="1.1" fill="#000"/>
<circle cx="147.95" cy="356.93" r="1.1" fill="#000"/>
<circle cx="152.48" cy="355.81" r="1.1" fill="#000"/>
<circle cx="157.01" cy="354.68" r="1.1" fill="#000"/>
<circle cx="161.54" cy="353.54" r="1.1" fill="#000"/>
<circle cx="166.07" cy="352.35" r="1.1" fill="#000"/>
<circle cx="170.60" cy="351.17" r="1.1" fill="#000"/>
<circle cx="175.13" cy="349.98" r="1.1" fill="#000"/>
<circle cx="179.66" cy="348.65" r="1.1" fill="#000"/>
<circle cx="184.19" cy="347.24" r="1.1" fill="#000"/>
<circle cx="188.72" cy="345.83" r="1.1" fill="#000"/>
<circle cx="193.25" cy="344.41" r="1.1" fill="#000"/>
<circle cx="197.78" cy="343.00" r="1.1" fill="#000"/>
<circle cx="202.31" cy="341.71" r="1.1" fill="#000"/>
<circle cx="206.84" cy="340.44" r="1.1" fill="#000"/>
<circle cx="211.37" cy="339.17" r="1.1" fill="#000"/>
<circle cx="215.90" cy="337.90" r="1.1" fill="#000"/>
<circle cx="220.43" cy="336.51" r="1.1" fill="#000"/>
<circle cx="224.96" cy="335.07" r="1.1" fill="#000"/>
<circle cx="229.49" cy="333.63" r="1.1" fill="#000"/>
<circle cx="234.02" cy="332.19" r="1.1" fill="#000"/>
<circle cx="238.55" cy="330.72" r="1.1" fill="#000"/>
<circle cx="243.08" cy="329.22" r="1.1" fill="#000"/>
<circle cx="247.61" cy="327.72" r="1.1" fill="#000"/>
<circle cx="252.14" cy="325.79" r="1.1" fill="#000"/>
<circle cx="256.67" cy="323.64" r="1.1" fill="#000"/>
<circle cx="261.20" cy="321.49" r="1.1" fill="#000"/>
<circle cx="265.73" cy="319.48" r="1.1" fill="#000"/>
<circle cx="270.26" cy="317.47" r="1.1" fill="#000"/>
<circle cx="274.79" cy="315.47" r="1.1" fill="#000"/>
<circle cx="279.32" cy="313.46" r="1.1" fill="#000"/>
<circle cx="283.85" cy="310.91" r="1.1" fill="#000"/>
<circle cx="288.38" cy="308.36" r="1.1" fill="#000"/>
<circle cx="292.91" cy="306.15" r="1.1" fill="#000"/>
<circle cx="297.44" cy="303.92" r="1.1" fill="#000"/>
<circle cx="301.97" cy="300.92" r="1.1" fill="#000"/>
<circle cx="306.50" cy="297.92" r="1.1" fill="#000"/>
<circle cx="311.03" cy="294.91" r="1.1" fill="#000"/>
<circle cx="315.56" cy="291.88" r="1.1" fill="#000"/>
<circle cx="320.09" cy="288.38" r="1.1" fill="#000"/>
<circle cx="324.62" cy="284.81" r="1.1" fill="#000"/>
<circle cx="329.15" cy="281.20" r="1.1" fill="#000"/>
<circle cx="333.68" cy="277.75" r="1.1" fill="#000"/>
<circle cx="338.21" cy="274.31" r="1.1" fill="#000"/>
<circle cx="342.74" cy="270.95" r="1.1" fill="#000"/>
<circle cx="347.27" cy="267.68" r="1.1" fill="#000"/>
<circle cx="351.80" cy="265.11" r="1.1" fill="#000"/>
<circle cx="356.33" cy="262.55" r="1.1" fill="#000"/>
<circle cx="360.86" cy="260.00" r="1.1" fill="#000"/>
<circle cx="365.39" cy="257.37" r="1.1" fill="#000"/>
<circle cx="369.92" cy="254.16" r="1.1" fill="#000"/>
<circle cx="374.45" cy="250.92" r="1.1" fill="#000"/>
<circle cx="378.98" cy="246.79" r="1.1" fill="#000"/>
<circle cx="383.51" cy="244.58" r="1.1" fill="#000"/>
<circle cx="388.04" cy="242.45" r="1.1" fill="#000"/>
<circle cx="392.57" cy="240.27" r="1.1" fill="#000"/>
<circle cx="397.10" cy="238.12" r="1.1" fill="#000"/>
<circle cx="401.63" cy="236.03" r="1.1" fill="#000"/>
<circle cx="406.16" cy="233.95" r="1.1" fill="#000"/>
<circle cx="410.69" cy="231.88" r="1.1" fill="#000"/>
<circle cx="415.22" cy="230.27" r="1.1" fill="#000"/>
<circle cx="419.75" cy="228.65" r="1.1" fill="#000"/>
<circle cx="424.28" cy="227.04" r="1.1" fill="#000"/>
<circle cx="428.81" cy="225.41" r="1.1" fill="#000"/>
<circle cx="433.34" cy="223.35" r="1.1" fill="#000"/>
<circle cx="437.87" cy="221.29" r="1.1" fill="#000"/>
<circle cx="442.40" cy="219.24" r="1.1" fill="#000"/>
<circle cx="446.93" cy="217.19" r="1.1" fill="#000"/>
<circle cx="451.46" cy="215.37" r="1.1" fill="#000"/>
<circle cx="455.99" cy="213.55" r="1.1" fill="#000"/>
<circle cx="460.52" cy="211.73" r="1.1" fill="#000"/>
<circle cx="465.05" cy="209.91" r="1.1" fill="#000"/>
<rect x="42.3" y="199.3" width="56.5" height="26.6" fill="#fff" stroke="#111" stroke-width="1.1" stroke-dasharray="1 1"/>
<line x1="46.4" y1="207.3" x2="61.5" y2="207.3" stroke="#000" stroke-width="1.7"/><circle cx="54" cy="207.3" r="2.1" fill="#000"/>
<line x1="46.4" y1="217.1" x2="61.5" y2="217.1" stroke="#f01c14" stroke-width="1.6"/><circle cx="54" cy="217.1" r="1.8" fill="#fff" stroke="#f01c14" stroke-width="1.1"/>
<text x="65.6" y="209.6" font-size="8.9" font-weight="700" textLength="28.6" lengthAdjust="spacingAndGlyphs">Control</text>
<text x="65.6" y="219.9" font-size="8.9" font-weight="700" textLength="30" lengthAdjust="spacingAndGlyphs">siEZRIN</text>
</g>
<g id="panelC">
<text x="6.3" y="476" font-size="17.8" font-weight="700">C</text>
<g id="mic1">
<clipPath id="clip1"><rect x="1.5" y="482" width="151.0" height="121.20000000000005"/></clipPath>
<g clip-path="url(#clip1)">
<rect x="1.5" y="482" width="151.0" height="121.20000000000005" fill="#959595"/>
<rect x="1.5" y="482" width="151.0" height="121.20000000000005" filter="url(#cells1)"/>
<polygon points="69.5,482 87.6,482 81.4,603.2 60.0,603.2" fill="#999" filter="url(#soft)"/>
<polygon points="69.5,479 87.6,479 81.4,606.2 60.0,606.2" fill="#000" filter="url(#fine1)" opacity="0.95"/>
<ellipse cx="103.4" cy="531" rx="5" ry="5" fill="#5e5e5e" opacity="0.55" filter="url(#blob)"/>
<ellipse cx="118.6" cy="517.5" rx="4.5" ry="4.5" fill="#5e5e5e" opacity="0.4" filter="url(#blob)"/>
<ellipse cx="96.6" cy="567" rx="4.5" ry="4.5" fill="#5e5e5e" opacity="0.35" filter="url(#blob)"/>
<ellipse cx="134" cy="520" rx="4" ry="4" fill="#5e5e5e" opacity="0.2" filter="url(#blob)"/>
<line x1="69.5" y1="482" x2="60.0" y2="603.2" stroke="#fff" stroke-width="1.1" stroke-dasharray="7 4.6" stroke-dashoffset="2.2"/>
<line x1="87.6" y1="482" x2="81.4" y2="603.2" stroke="#fff" stroke-width="1.1" stroke-dasharray="7 4.6" stroke-dashoffset="2.2"/>
</g>
<text x="4.6" y="494.2" font-size="10.6" font-weight="700" fill="#0a0a0a" textLength="35.9" lengthAdjust="spacingAndGlyphs">siCTRL</text>
</g>
<g id="mic2">
<clipPath id="clip2"><rect x="157.7" y="482" width="144.8" height="121.20000000000005"/></clipPath>
<g clip-path="url(#clip2)">
<rect x="157.7" y="482" width="144.8" height="121.20000000000005" fill="#959595"/>
<rect x="157.7" y="482" width="144.8" height="121.20000000000005" filter="url(#cells2)"/>
<polygon points="207.6,482 267.0,482 246.6,603.2 188.0,603.2" fill="#999" filter="url(#soft)"/>
<polygon points="207.6,479 267.0,479 246.6,606.2 188.0,606.2" fill="#000" filter="url(#fine2)" opacity="0.95"/>
<ellipse cx="230.7" cy="549.7" rx="5.5" ry="5" fill="#5e5e5e" opacity="0.55" filter="url(#blob)"/>
<ellipse cx="214.4" cy="529.3" rx="5.5" ry="5" fill="#5e5e5e" opacity="0.3" filter="url(#blob)"/>
<ellipse cx="185.6" cy="526" rx="6.5" ry="6" fill="#5e5e5e" opacity="0.35" filter="url(#blob)"/>
<ellipse cx="251.7" cy="551" rx="3.5" ry="3.5" fill="#5e5e5e" opacity="0.25" filter="url(#blob)"/>
<ellipse cx="280.5" cy="504" rx="6" ry="6" fill="#5e5e5e" opacity="0.3" filter="url(#blob)"/>
<line x1="207.6" y1="482" x2="188.0" y2="603.2" stroke="#fff" stroke-width="1.1" stroke-dasharray="7 4.6" stroke-dashoffset="2.2"/>
<line x1="267.0" y1="482" x2="246.6" y2="603.2" stroke="#fff" stroke-width="1.1" stroke-dasharray="7 4.6" stroke-dashoffset="2.2"/>
</g>
<text x="160.8" y="494.2" font-size="10.6" font-weight="700" fill="#0a0a0a" textLength="39.8" lengthAdjust="spacingAndGlyphs">siEZRIN</text>
</g>
<g clip-path="url(#clip1)"><path d="M1 544 C14 543 28 552 36 566 C41 578 43 590 45 604" fill="none" stroke="#666" stroke-width="5.5" opacity="0.42" filter="url(#blob2)"/><path d="M1 552 C12 552 24 560 30 572 C35 584 37 594 38 604" fill="none" stroke="#c4c4c4" stroke-width="3.5" opacity="0.35" filter="url(#blob2)"/><path d="M127 546 C124 552 118 556 114 561 C110 565 108 570 105 570 C103 568 106 565 108 566" fill="none" stroke="#444" stroke-width="0.9" opacity="0.7"/><path d="M77 528 C79 536 76 544 78 552 M66 556 C68 562 67 566 69 572" fill="none" stroke="#666" stroke-width="0.7" opacity="0.5"/></g>
<g clip-path="url(#clip2)"><path d="M278 547 C274 553 268 559 263 566 M260 559 C261 562 262 564 263 566 C266 566 268 565 270 564" fill="none" stroke="#4a4a4a" stroke-width="1.1" opacity="0.6"/><path d="M288 575 C289 580 291 584 290 588" fill="none" stroke="#444" stroke-width="0.9" opacity="0.55"/></g>
<line x1="368.3" y1="569.50" x2="453.7" y2="569.50" stroke="#c9c9c9" stroke-width="0.8"/>
<line x1="368.3" y1="544.50" x2="453.7" y2="544.50" stroke="#c9c9c9" stroke-width="0.8"/>
<line x1="368.3" y1="519.50" x2="453.7" y2="519.50" stroke="#c9c9c9" stroke-width="0.8"/>
<line x1="368.3" y1="494.50" x2="453.7" y2="494.50" stroke="#c9c9c9" stroke-width="0.8"/>
<line x1="368.3" y1="469.50" x2="453.7" y2="469.50" stroke="#c9c9c9" stroke-width="0.8"/>
<text x="361.4" y="596.9" font-size="6.5" text-anchor="end" fill="#222">0%</text>
<text x="361.4" y="571.9" font-size="6.5" text-anchor="end" fill="#222">10%</text>
<text x="361.4" y="546.9" font-size="6.5" text-anchor="end" fill="#222">20%</text>
<text x="361.4" y="521.9" font-size="6.5" text-anchor="end" fill="#222">30%</text>
<text x="361.4" y="496.9" font-size="6.5" text-anchor="end" fill="#222">40%</text>
<text x="361.4" y="471.9" font-size="6.5" text-anchor="end" fill="#222">50%</text>
<line x1="368.3" y1="594.5" x2="453.7" y2="594.5" stroke="#777" stroke-width="1"/>
<rect x="379" y="489.50" width="21.6" height="105.00" fill="#000"/>
<rect x="420.9" y="567.00" width="21.8" height="27.50" fill="#000"/>
<path d="M389.8 489.5V472.2M388.6 472.2h2.4M431.8 567.0V559.8M430.6 559.8h2.4" stroke="#333" stroke-width="0.9" fill="none"/>
<text x="389.8" y="606.8" font-size="8.1" font-weight="700" text-anchor="middle" fill="#111">Control</text>
<text x="432" y="606.8" font-size="8.1" font-weight="700" text-anchor="middle" fill="#111">SiEZRIN</text>
<text transform="translate(337.7,534.2) rotate(-90)" font-size="9.3" text-anchor="middle" fill="#222">% Migration</text>
</g>
<g id="panelD">
<text x="6.7" y="665.3" font-size="18" font-weight="700">D</text>
<line x1="93.7" y1="778.10" x2="387.2" y2="778.10" stroke="#bdbdbd" stroke-width="0.9"/>
<line x1="93.7" y1="739.50" x2="387.2" y2="739.50" stroke="#bdbdbd" stroke-width="0.9"/>
<line x1="93.7" y1="700.90" x2="387.2" y2="700.90" stroke="#bdbdbd" stroke-width="0.9"/>
<line x1="93.7" y1="662.30" x2="387.2" y2="662.30" stroke="#bdbdbd" stroke-width="0.9"/>
<line x1="95.7" y1="662.30" x2="95.7" y2="816.7" stroke="#b4b4b4" stroke-width="0.9"/>
<text x="70.4" y="820.3" font-size="9.6" fill="#1a1a1a" textLength="6.6" lengthAdjust="spacingAndGlyphs">0</text>
<text x="70.4" y="781.7" font-size="9.6" fill="#1a1a1a" textLength="6.6" lengthAdjust="spacingAndGlyphs">3</text>
<text x="70.4" y="743.1" font-size="9.6" fill="#1a1a1a" textLength="6.6" lengthAdjust="spacingAndGlyphs">5</text>
<text x="70.4" y="704.5" font-size="9.6" fill="#1a1a1a" textLength="6.6" lengthAdjust="spacingAndGlyphs">8</text>
<text x="64.0" y="665.9" font-size="9.6" fill="#1a1a1a" textLength="13.0" lengthAdjust="spacingAndGlyphs">10</text>
<text transform="translate(59.2,741.7) rotate(-90)" font-size="20.8" text-anchor="middle" fill="#111" textLength="155" lengthAdjust="spacingAndGlyphs">cell proliferation /T0</text>
<rect x="116.3" y="778.7" width="27.1" height="38.0" fill="#6192ca"/>
<rect x="116.3" y="778.7" width="27.1" height="38.0" fill="url(#stripesb)"/>
<rect x="146.0" y="789.3" width="27.1" height="27.4" fill="#cf6560"/>
<rect x="146.0" y="789.3" width="27.1" height="27.4" fill="url(#stripesr)"/>
<rect x="213.6" y="754.2" width="26.0" height="62.5" fill="#6192ca"/>
<rect x="213.6" y="754.2" width="26.0" height="62.5" fill="url(#stripesb)"/>
<rect x="243.3" y="771.6" width="26.0" height="45.1" fill="#cf6560"/>
<rect x="243.3" y="771.6" width="26.0" height="45.1" fill="url(#stripesr)"/>
<rect x="309.8" y="689.5" width="27.2" height="127.2" fill="#6192ca"/>
<rect x="309.8" y="689.5" width="27.2" height="127.2" fill="url(#stripesb)"/>
<rect x="339.5" y="724.0" width="27.2" height="92.7" fill="#cf6560"/>
<rect x="339.5" y="724.0" width="27.2" height="92.7" fill="url(#stripesr)"/>
<line x1="93.7" y1="816.7" x2="387.2" y2="816.7" stroke="#a0a0a0" stroke-width="1.2"/>
<path d="M192.9 816.7v2.4M290.0 816.7v2.4M387.2 816.7v2.4" stroke="#909090" stroke-width="0.8"/>
<path d="M130.2 778.0V779.4M127.39999999999999 779.4h5.6M127.39999999999999 778.0h5.6M160.0 788.7V789.9M157.2 789.9h5.6M157.2 788.7h5.6M227.2 751.4V758.3M224.39999999999998 758.3h5.6M256.7 768.0V775.4M253.89999999999998 775.4h5.6M253.89999999999998 768.0h5.6M324.2 675.7V703.7M321.4 703.7h5.6M321.4 675.7h5.6M353.9 713.2V735.5M351.09999999999997 735.5h5.6M351.09999999999997 713.2h5.6" stroke="#0a0a0a" stroke-width="1.25" fill="none"/>
<path d="M123.4 741.9000000000001V738.7H168.2V741.9000000000001" stroke="#3c3c3c" stroke-width="0.95" fill="none"/>
<text x="129.7" y="734.8" font-size="9.2" fill="#111" font-family='"Liberation Serif", serif' textLength="32.6" lengthAdjust="spacingAndGlyphs">p&lt;0.001</text>
<path d="M217.9 742.0V738.8H262.4V742.0" stroke="#3c3c3c" stroke-width="0.95" fill="none"/>
<text x="222.7" y="734.9" font-size="9.2" fill="#111" font-family='"Liberation Serif", serif' textLength="32.6" lengthAdjust="spacingAndGlyphs">p&lt;0.001</text>
<path d="M317.7 664.6V661.4H362.4V664.6" stroke="#3c3c3c" stroke-width="0.95" fill="none"/>
<text x="322.5" y="657.5" font-size="9.2" fill="#111" font-family='"Liberation Serif", serif' textLength="32.6" lengthAdjust="spacingAndGlyphs">p&lt;0.001</text>
<text x="118.3" y="835.3" font-size="11.2" fill="#111" textLength="51.6" lengthAdjust="spacingAndGlyphs">24 hours</text>
<text x="216.1" y="835.3" font-size="11.2" fill="#111" textLength="51.6" lengthAdjust="spacingAndGlyphs">48 hours</text>
<text x="312.8" y="835.3" font-size="11.2" fill="#111" textLength="51.6" lengthAdjust="spacingAndGlyphs">72 hours</text>
<rect x="155.4" y="853.8" width="14.1" height="9.9" fill="#6192ca"/>
<text x="180.9" y="863.3" font-size="11.8" fill="#111" textLength="49.6" lengthAdjust="spacingAndGlyphs">siCTRL</text>
<rect x="250.8" y="854.1" width="14.6" height="10.2" fill="#cf6560"/>
<rect x="250.8" y="854.1" width="14.6" height="10.2" fill="url(#stripesr)"/>
<text x="275.9" y="863.3" font-size="11.8" fill="#111" textLength="56.1" lengthAdjust="spacingAndGlyphs">siEZRIN</text>
</g>
</g>
</svg>
</body></html>
